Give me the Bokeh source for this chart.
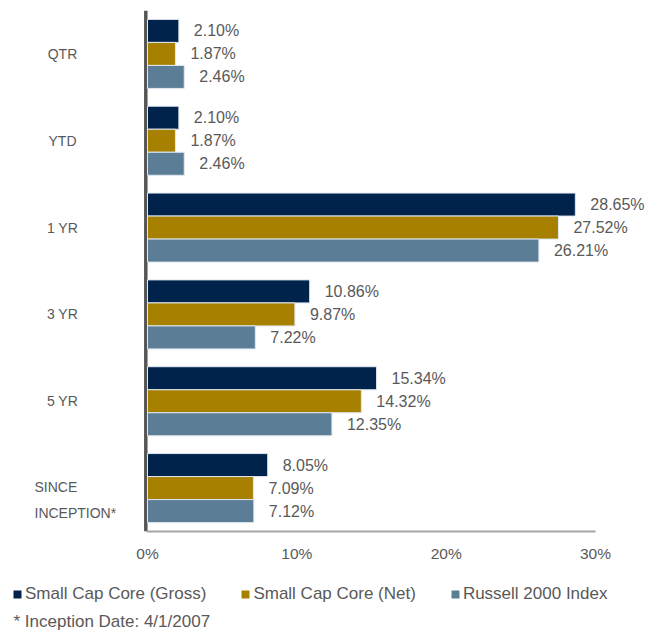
from bokeh.plotting import figure
from bokeh.layouts import column
from bokeh.models import (Range1d, ColumnDataSource, LabelSet, Label, Legend, LegendItem,
                          FixedTicker, Span)
from bokeh.core.properties import value
from bokeh.embed import file_html
from bokeh.resources import INLINE

# ---- data ----
categories = ["QTR", "YTD", "1 YR", "3 YR", "5 YR", "SINCE\nINCEPTION*"]
series_names = ["Small Cap Core (Gross)", "Small Cap Core (Net)", "Russell 2000 Index"]
gross = [2.10, 2.10, 28.65, 10.86, 15.34, 8.05]
net = [1.87, 1.87, 27.52, 9.87, 14.32, 7.09]
russell = [2.46, 2.46, 26.21, 7.22, 12.35, 7.12]
x_ticks = [0, 10, 20, 30]
x_tick_labels = ["0%", "10%", "20%", "30%"]
footnote = "* Inception Date: 4/1/2007"

colors = ["#00234C", "#A88000", "#5B7E96"]
TXT = "#595959"
FONT = "Liberation Sans"
NARROW = "'Liberation Sans Narrow', 'Liberation Sans', sans-serif"

W, H = 657, 630
H1 = 575           # main chart height
H2 = H - H1        # legend / footnote strip
# layout in pixels: x=0 at px 147, x=30 at px 595
px0, px30 = 147.0, 595.0
scale = (px30 - px0) / (x_ticks[-1] - x_ticks[0])
x_start = -px0 / scale
x_end = (W - px0) / scale

p = figure(width=W, height=H1, output_backend="svg", toolbar_location=None,
           x_range=Range1d(x_start, x_end), y_range=Range1d(len(categories), 0),
           y_axis_location=None,
           min_border_left=0, min_border_right=0, min_border_top=10, min_border_bottom=H1 - 531)
p.outline_line_color = None
p.xgrid.grid_line_color = None
p.ygrid.grid_line_color = None
p.background_fill_color = "white"

bar_h = 0.265
for j, (vals, col) in enumerate(zip([gross, net, russell], colors)):
    ys = [i + 0.5 + (j - 1) * bar_h for i in range(len(categories))]
    src = ColumnDataSource(dict(y=ys, x=vals, lab=["%.2f%%" % v for v in vals]))
    p.hbar(y="y", right="x", left=0, height=bar_h, source=src,
           fill_color=col, line_color="#dfe7f0", line_width=1)
    p.add_layout(LabelSet(x="x", y="y", text="lab", source=src, x_offset=15,
                          text_baseline="middle", text_align="left",
                          text_font=value(FONT), text_font_size="16px", text_color=TXT))

# vertical axis line
p.add_layout(Span(location=-1.7 / scale, dimension="height", line_color="#555555",
                  line_width=3.5, level="underlay"))

# x axis
xa = p.xaxis[0]
xa.ticker = FixedTicker(ticks=x_ticks)
xa.bounds = (x_ticks[0] - 0.07, x_ticks[-1])
xa.major_label_overrides = {t: l for t, l in zip(x_ticks, x_tick_labels)}
xa.axis_line_color = "#A6A6A6"
xa.axis_line_width = 2
xa.major_tick_line_color = None
xa.minor_tick_line_color = None
xa.major_tick_out = 0
xa.major_tick_in = 0
xa.major_label_standoff = 13
xa.major_label_text_font = FONT
xa.major_label_text_font_size = "15.5px"
xa.major_label_text_color = TXT

# category labels
cat_x = (62 - px0) / scale
for i, c in enumerate(categories):
    if "\n" in c:
        lab = Label(x=(34 - px0) / scale, y=i + 0.5, text=c, text_align="left",
                    text_baseline="top", y_offset=9, text_font=NARROW,
                    text_font_size="14px", text_color=TXT, text_line_height=1.6)
    else:
        lab = Label(x=cat_x, y=i + 0.5, text=c, text_align="center", text_baseline="middle",
                    text_font=NARROW, text_font_size="14px", text_color=TXT)
    p.add_layout(lab)

# ---- legend + footnote strip (pixel coordinates, y from top) ----
p2 = figure(width=W, height=H2, output_backend="svg", toolbar_location=None,
            x_range=Range1d(0, W), y_range=Range1d(H2, 0),
            x_axis_location=None, y_axis_location=None,
            min_border_left=0, min_border_right=0, min_border_top=0, min_border_bottom=0)
p2.outline_line_color = None
p2.xgrid.grid_line_color = None
p2.ygrid.grid_line_color = None
leg_items = []
for n, col in zip(series_names, colors):
    # zero-size proxy glyph, only used for the legend swatch
    r = p2.hbar(y=[0], right=[0], left=0, height=0, fill_color=col, line_color=None)
    leg_items.append(LegendItem(label=n, renderers=[r]))
legend = Legend(items=leg_items, orientation="horizontal", location=(12, H2 - (594 - H1) - 10),
                glyph_width=10, glyph_height=10, label_standoff=3, spacing=34,
                label_height=20, padding=0, margin=0, border_line_alpha=0,
                background_fill_alpha=0,
                label_text_font=FONT, label_text_font_size="17px", label_text_color=TXT)
p2.add_layout(legend)
p2.add_layout(Label(x=13, y=621 - H1, text=footnote, text_baseline="middle", text_align="left",
                    text_font=FONT, text_font_size="17px", text_color=TXT))

open("out.html", "w").write(file_html(column(p, p2, spacing=0), INLINE))
